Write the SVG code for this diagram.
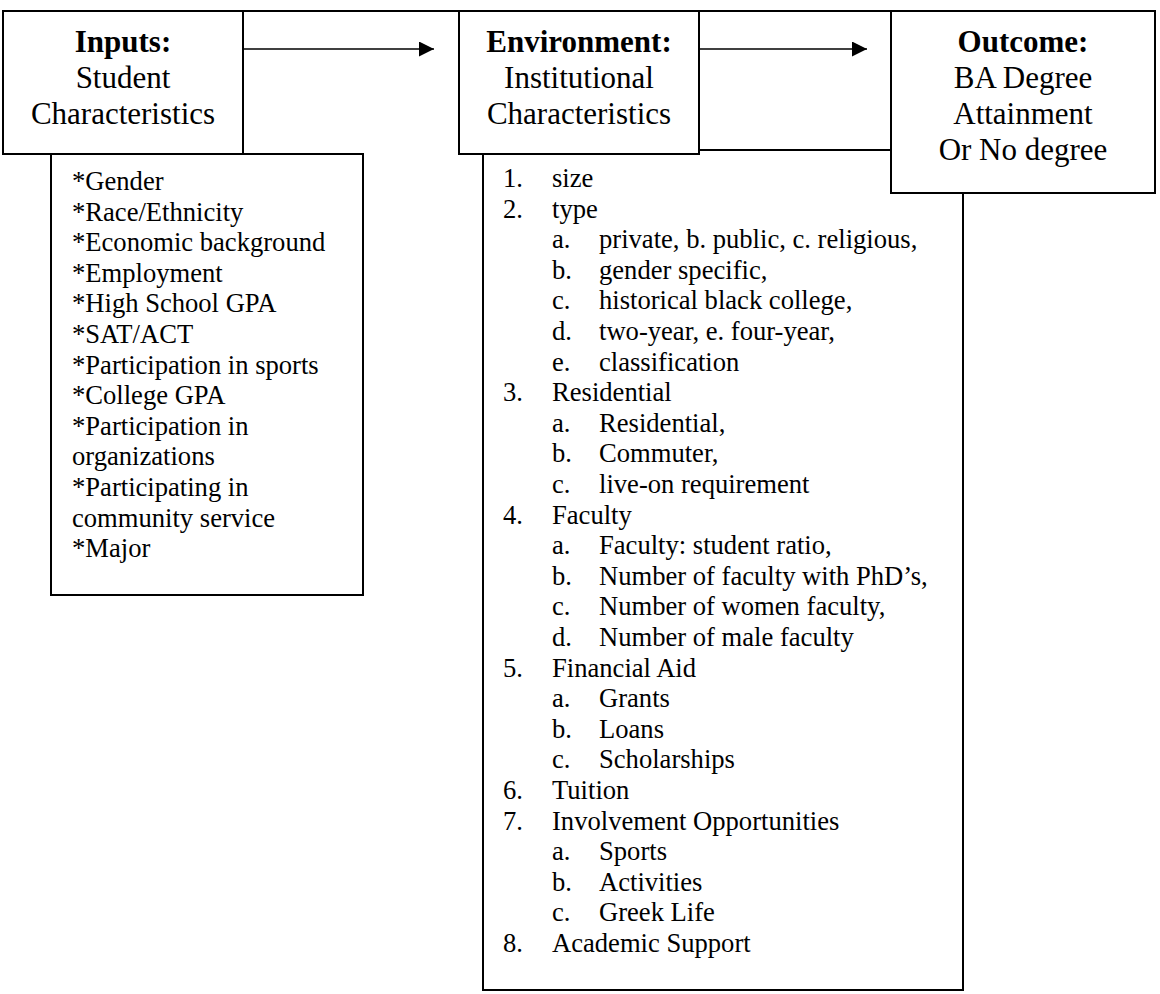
<svg xmlns="http://www.w3.org/2000/svg" width="1160" height="994" viewBox="0 0 1160 994">
<style>
.box{fill:#fff;stroke:#000;stroke-width:2}
.t{font-family:"Liberation Serif","Times New Roman",serif;fill:#000}
.h{font-size:31px;text-anchor:middle}
.b{font-weight:bold}
.l{font-size:26.6px}
.c{stroke:#000;stroke-width:1.4;fill:none}
.f{stroke:#000;stroke-width:2;fill:none}
</style>
<defs>
<marker id="ah" markerUnits="userSpaceOnUse" markerWidth="15" markerHeight="15" refX="15" refY="7.5" orient="auto">
<path d="M0,0 L15,7.5 L0,15 Z" fill="#000"/>
</marker>
</defs>
<rect width="1160" height="994" fill="#fff"/>

<g id="environment-list">
<rect class="box" x="483" y="150" width="480" height="840"/>
<g class="t l">
<text x="503" y="187">1.</text><text x="552" y="187">size</text>
<text x="503" y="217.6">2.</text><text x="552" y="217.6">type</text>
<text x="552" y="248.2">a.</text><text x="599" y="248.2">private, b. public, c. religious,</text>
<text x="552" y="278.8">b.</text><text x="599" y="278.8">gender specific,</text>
<text x="552" y="309.4">c.</text><text x="599" y="309.4">historical black college,</text>
<text x="552" y="340">d.</text><text x="599" y="340">two-year, e. four-year,</text>
<text x="552" y="370.6">e.</text><text x="599" y="370.6">classification</text>
<text x="503" y="401.2">3.</text><text x="552" y="401.2">Residential</text>
<text x="552" y="431.8">a.</text><text x="599" y="431.8">Residential,</text>
<text x="552" y="462.4">b.</text><text x="599" y="462.4">Commuter,</text>
<text x="552" y="493">c.</text><text x="599" y="493">live-on requirement</text>
<text x="503" y="523.6">4.</text><text x="552" y="523.6">Faculty</text>
<text x="552" y="554.2">a.</text><text x="599" y="554.2">Faculty: student ratio,</text>
<text x="552" y="584.8">b.</text><text x="599" y="584.8">Number of faculty with PhD’s,</text>
<text x="552" y="615.4">c.</text><text x="599" y="615.4">Number of women faculty,</text>
<text x="552" y="646">d.</text><text x="599" y="646">Number of male faculty</text>
<text x="503" y="676.6">5.</text><text x="552" y="676.6">Financial Aid</text>
<text x="552" y="707.2">a.</text><text x="599" y="707.2">Grants</text>
<text x="552" y="737.8">b.</text><text x="599" y="737.8">Loans</text>
<text x="552" y="768.4">c.</text><text x="599" y="768.4">Scholarships</text>
<text x="503" y="799">6.</text><text x="552" y="799">Tuition</text>
<text x="503" y="829.6">7.</text><text x="552" y="829.6">Involvement Opportunities</text>
<text x="552" y="860.2">a.</text><text x="599" y="860.2">Sports</text>
<text x="552" y="890.8">b.</text><text x="599" y="890.8">Activities</text>
<text x="552" y="921.4">c.</text><text x="599" y="921.4">Greek Life</text>
<text x="503" y="952">8.</text><text x="552" y="952">Academic Support</text>
</g>
</g>

<g id="inputs-list">
<rect class="box" x="51" y="154" width="312" height="441"/>
<g class="t l">
<text x="72" y="190">*Gender</text>
<text x="72" y="220.6">*Race/Ethnicity</text>
<text x="72" y="251.2">*Economic background</text>
<text x="72" y="281.8">*Employment</text>
<text x="72" y="312.4">*High School GPA</text>
<text x="72" y="343">*SAT/ACT</text>
<text x="72" y="373.6">*Participation in sports</text>
<text x="72" y="404.2">*College GPA</text>
<text x="72" y="434.8">*Participation in</text>
<text x="72" y="465.4">organizations</text>
<text x="72" y="496">*Participating in</text>
<text x="72" y="526.6">community service</text>
<text x="72" y="557.2">*Major</text>
</g>
</g>

<g id="inputs">
<rect class="box" x="3" y="11" width="240" height="143"/>
<g class="t h">
<text class="b" x="123" y="52">Inputs:</text>
<text x="123" y="88">Student</text>
<text x="123" y="124">Characteristics</text>
</g>
</g>

<g id="environment">
<rect class="box" x="459" y="11" width="240" height="143"/>
<g class="t h">
<text class="b" x="579" y="52">Environment:</text>
<text x="579" y="88">Institutional</text>
<text x="579" y="124">Characteristics</text>
</g>
</g>

<g id="outcome">
<rect class="box" x="891" y="11" width="264" height="182"/>
<g class="t h">
<text class="b" x="1023" y="52">Outcome:</text>
<text x="1023" y="88">BA Degree</text>
<text x="1023" y="124">Attainment</text>
<text x="1023" y="160">Or No degree</text>
</g>
</g>

<g id="connectors">
<line class="f" x1="3" y1="11" x2="1155" y2="11"/>
<line class="c" x1="243" y1="49" x2="434" y2="49" marker-end="url(#ah)"/>
<line class="c" x1="699" y1="49" x2="867" y2="49" marker-end="url(#ah)"/>
</g>
</svg>
